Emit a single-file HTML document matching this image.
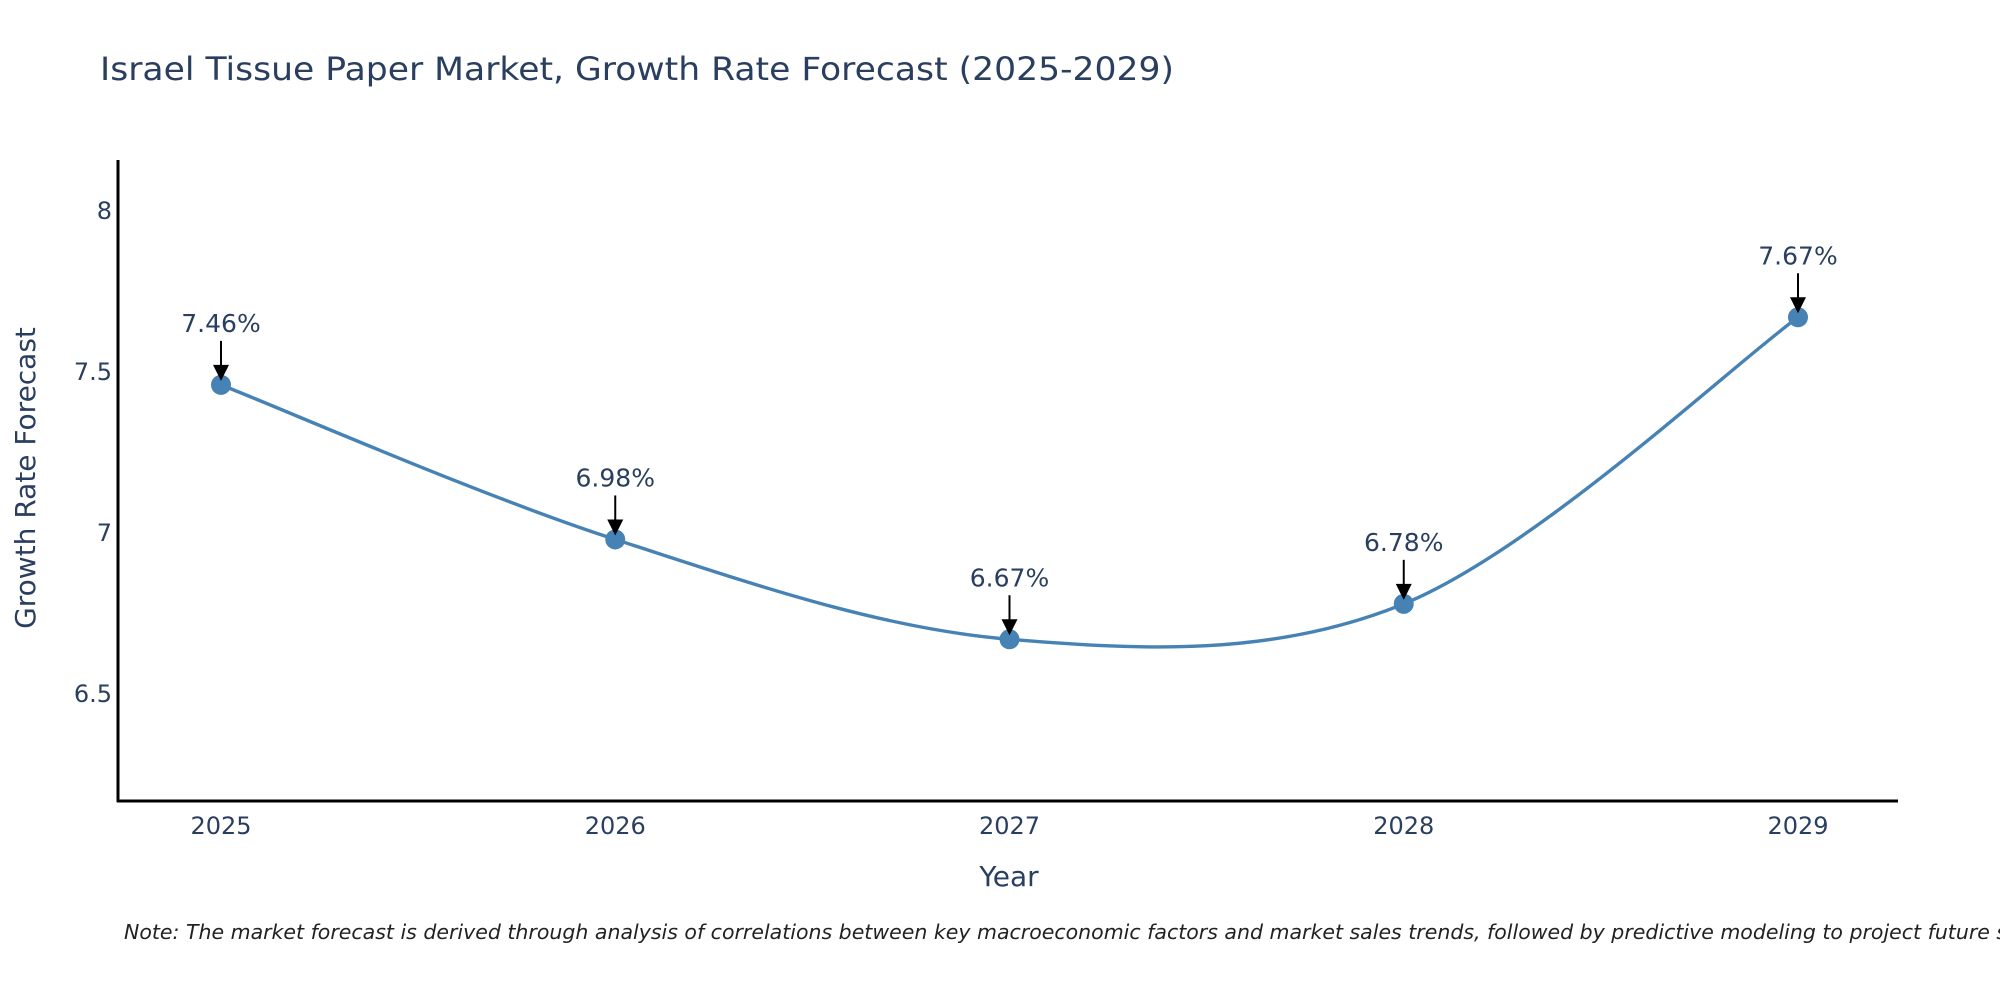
<!DOCTYPE html>
<html><head><meta charset="utf-8"><style>
html,body{margin:0;padding:0;background:#fff;}
svg{display:block;font-family:"DejaVu Sans","Liberation Sans",sans-serif;}
</style></head><body>
<svg id="chart" width="2000" height="1000" viewBox="0 0 2000 1000">
<text x="100" y="80" font-size="32" fill="#2a3f5f" textLength="1074" lengthAdjust="spacingAndGlyphs">Israel Tissue Paper Market, Growth Rate Forecast (2025-2029)</text>
<g id="yticks"></g>
<g id="xticks"></g>
<path id="series" fill="none" stroke="#4682b4" stroke-width="3.4"></path>
<g id="points"></g>
<g id="annots"></g>
<line x1="118" y1="160" x2="118" y2="802" stroke="#000" stroke-width="3"/>
<line x1="117" y1="801" x2="1898" y2="801" stroke="#000" stroke-width="3"/>
<text x="1009" y="886" font-size="28" fill="#2a3f5f" text-anchor="middle">Year</text>
<text transform="translate(35,478) rotate(-90)" font-size="28" fill="#2a3f5f" text-anchor="middle">Growth Rate Forecast</text>
<text x="124" y="939" font-size="20.5" font-style="italic" fill="#222">Note: The market forecast is derived through analysis of correlations between key macroeconomic factors and market sales trends, followed by predictive modeling to project future sales.</text>
</svg>
<script>
const years = ["2025","2026","2027","2028","2029"];
const growthValues = [7.46, 6.98, 6.67, 6.78, 7.67];
const valueLabels = ["7.46%","6.98%","6.67%","6.78%","7.67%"];
const yTickValues = [6.5, 7, 7.5, 8];
const yTickLabels = ["6.5","7","7.5","8"];

const NS = "http://www.w3.org/2000/svg";
function xScale(i){ return 221 + i * (1798 - 221) / (years.length - 1); }
function yScale(v){ return 533 - (v - 7) * 322; }
function mk(tag, attrs, parent){ const e = document.createElementNS(NS, tag); for (const k in attrs) e.setAttribute(k, attrs[k]); parent.appendChild(e); return e; }

const yt = document.getElementById('yticks');
yTickValues.forEach((v, i) => {
  const t = mk('text', {x: 112, y: yScale(v) + 8, 'font-size': 24, fill: '#2a3f5f', 'text-anchor': 'end'}, yt);
  
  
  t.textContent = yTickLabels[i];
});
const xt = document.getElementById('xticks');
years.forEach((y, i) => {
  const t = mk('text', {x: xScale(i), y: 834, 'font-size': 24, fill: '#2a3f5f', 'text-anchor': 'middle'}, xt);
  
  
  t.textContent = y;
});

const pts = growthValues.map((v, i) => [xScale(i), yScale(v)]);
let d = 'M' + pts[0][0] + ',' + pts[0][1];
for (let i = 0; i < pts.length - 1; i++) {
  const p0 = pts[Math.max(0, i - 1)], p1 = pts[i], p2 = pts[i + 1], p3 = pts[Math.min(pts.length - 1, i + 2)];
  const c1 = [p1[0] + (p2[0] - p0[0]) / 6, p1[1] + (p2[1] - p0[1]) / 6];
  const c2 = [p2[0] - (p3[0] - p1[0]) / 6, p2[1] - (p3[1] - p1[1]) / 6];
  d += ' C' + c1 + ' ' + c2 + ' ' + p2;
}
document.getElementById('series').setAttribute('d', d);

const pg = document.getElementById('points');
const ag = document.getElementById('annots');
pts.forEach((p, i) => {
  const c = mk('circle', {cx: p[0], cy: p[1], r: 10, fill: '#4682b4'}, pg);
  
  
  const l = mk('line', {x1: p[0], y1: p[1] - 44, x2: p[0], y2: p[1] - 16, stroke: '#000', 'stroke-width': 2}, ag);
  
  
  const h = mk('polygon', {points: (p[0]-8)+','+(p[1]-20)+' '+(p[0]+8)+','+(p[1]-20)+' '+p[0]+','+(p[1]-4), fill: '#000'}, ag);
  
  
  const t = mk('text', {x: p[0], y: p[1] - 53, 'font-size': 25, fill: '#2a3f5f', 'text-anchor': 'middle'}, ag);
  
  
  t.textContent = valueLabels[i];
});
</script>
</body></html>
